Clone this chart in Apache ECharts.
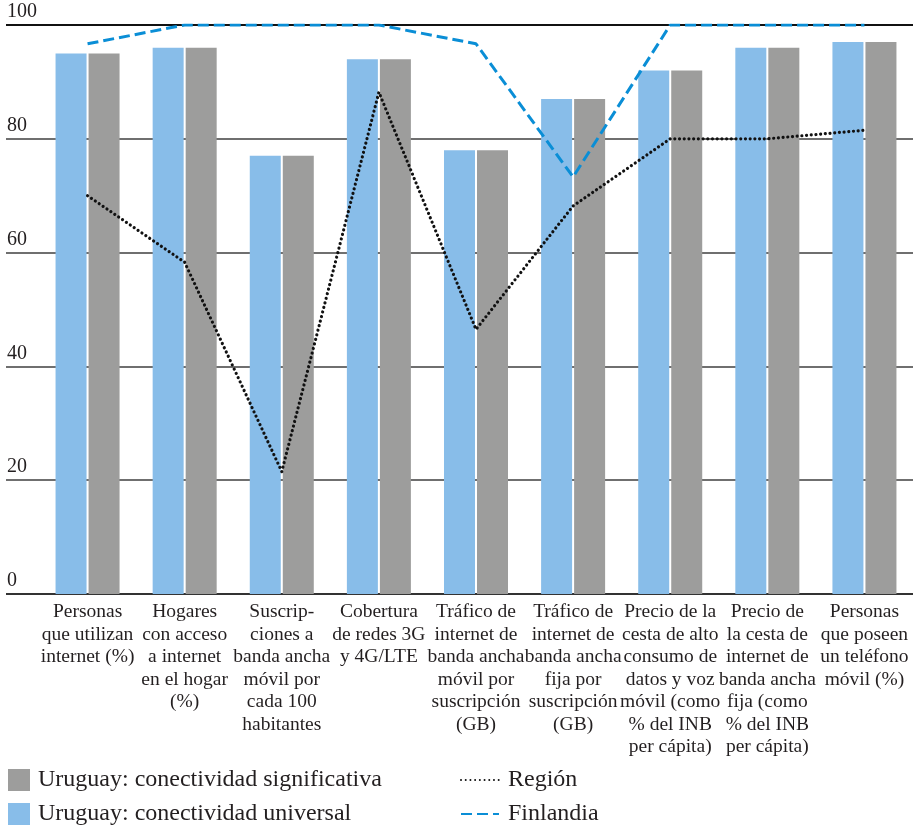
<!DOCTYPE html>
<html>
<head>
<meta charset="utf-8">
<script src="https://cdn.jsdelivr.net/npm/echarts@6/dist/echarts.min.js"></script>
<style>
  html, body { margin: 0; padding: 0; background: #ffffff; }
  #chart { width: 913px; height: 827px; }
</style>
</head>
<body>
<div id="chart"></div>
<script>
// Indicator labels (one per group of bars)
const categories = [
  'Personas\nque utilizan\ninternet (%)',
  'Hogares\ncon acceso\na internet\nen el hogar\n(%)',
  'Suscrip-\nciones a\nbanda ancha\nmóvil por\ncada 100\nhabitantes',
  'Cobertura\nde redes 3G\ny 4G/LTE',
  'Tráfico de\ninternet de\nbanda ancha\nmóvil por\nsuscripción\n(GB)',
  'Tráfico de\ninternet de\nbanda ancha\nfija por\nsuscripción\n(GB)',
  'Precio de la\ncesta de alto\nconsumo de\ndatos y voz\nmóvil (como\n% del INB\nper cápita)',
  'Precio de\nla cesta de\ninternet de\nbanda ancha\nfija (como\n% del INB\nper cápita)',
  'Personas\nque poseen\nun teléfono\nmóvil (%)'
];

// Uruguay scores
const universalValues     = [95, 96, 77, 94, 78, 87, 92, 96, 97];
const significativaValues = [95, 96, 77, 94, 78, 87, 92, 96, 97];

// Benchmarks
const regionValues    = [70, 58.3, 21.5, 88.2, 46.5, 68.2, 80, 80, 81.5];
const finlandiaValues = [96.7, 100, 100, 100, 96.7, 73.3, 100, 100, 100];

// Y axis ticks
const yTicks = [0, 20, 40, 60, 80, 100];

const FONT = "'Liberation Serif', 'DejaVu Serif', serif";
const TEXT = '#231f20';
const BLUE = '#88bde9';
const GRAY = '#9d9d9c';
const LINE_BLUE = '#0a8ed6';

const chart = echarts.init(document.getElementById('chart'), null, { renderer: 'canvas' });

// one legend block per entry so each row sits exactly where it belongs
function legendBlock(name, left, top, itemWidth, isLine) {
  const block = {
    orient: 'vertical',
    left: left,
    top: top,
    padding: 0,
    itemWidth: itemWidth,
    itemHeight: 22,
    textStyle: { fontFamily: FONT, fontSize: 24, color: TEXT, padding: [0, 0, 0, isLine ? 4 : 3] },
    data: [name]
  };
  if (isLine) {
    // keep only the stroke of the line sample
    block.itemStyle = { opacity: 0 };
  } else {
    block.icon = 'rect';
  }
  return block;
}

const option = {
  animation: false,
  backgroundColor: '#ffffff',
  textStyle: { fontFamily: FONT, color: TEXT },
  grid: [
    // full-width grid carrying the horizontal rules and their labels
    { left: 6, right: 0, top: 25, bottom: 233, containLabel: false },
    // plotting grid for bars and lines
    { left: 39, width: 879, top: 25, bottom: 233, containLabel: false }
  ],
  xAxis: [
    { gridIndex: 0, type: 'value', show: false, min: 0, max: 1 },
    {
      gridIndex: 1,
      type: 'category',
      data: categories,
      axisLine: { show: false },
      axisTick: { show: false },
      axisLabel: {
        interval: 0,
        margin: 7,
        fontFamily: FONT,
        fontSize: 19.5,
        lineHeight: 22.5,
        color: TEXT,
        align: 'center'
      }
    }
  ],
  yAxis: [
    {
      gridIndex: 0,
      type: 'value',
      min: yTicks[0],
      max: yTicks[yTicks.length - 1],
      interval: 20,
      axisLine: { show: false },
      axisTick: { show: false },
      splitLine: {
        show: true,
        lineStyle: {
          color: ['#333333', '#6f6f6f', '#6f6f6f', '#6f6f6f', '#6f6f6f', '#111111'],
          width: 2
        }
      },
      axisLabel: {
        inside: true,
        margin: 1,
        verticalAlign: 'bottom',
        padding: [0, 0, 3, 0],
        fontFamily: FONT,
        fontSize: 20,
        lineHeight: 20,
        color: TEXT,
        formatter: function (v) { return yTicks.indexOf(v) >= 0 ? String(v) : ''; }
      }
    },
    { gridIndex: 1, type: 'value', min: 0, max: 100, show: false, splitLine: { show: false } }
  ],
  legend: [
    legendBlock('Uruguay: conectividad significativa', 8, 768, 22, false),
    legendBlock('Uruguay: conectividad universal', 8, 802, 22, false),
    legendBlock('Región', 460, 768, 38, true),
    legendBlock('Finlandia', 460, 802, 38, true)
  ],
  series: [
    {
      name: 'Uruguay: conectividad universal',
      type: 'bar',
      xAxisIndex: 1,
      yAxisIndex: 1,
      data: universalValues,
      barWidth: 31,
      barGap: '6.5%',
      itemStyle: { color: BLUE }
    },
    {
      name: 'Uruguay: conectividad significativa',
      type: 'bar',
      xAxisIndex: 1,
      yAxisIndex: 1,
      data: significativaValues,
      barWidth: 31,
      barGap: '6.5%',
      itemStyle: { color: GRAY }
    },
    {
      name: 'Región',
      type: 'line',
      xAxisIndex: 1,
      yAxisIndex: 1,
      data: regionValues,
      symbol: 'none',
      z: 4,
      itemStyle: { color: '#111111' },
      lineStyle: { color: '#111111', width: 3.2, type: [0.01, 4.7], cap: 'round' }
    },
    {
      name: 'Finlandia',
      type: 'line',
      xAxisIndex: 1,
      yAxisIndex: 1,
      data: finlandiaValues,
      symbol: 'none',
      z: 4,
      itemStyle: { color: LINE_BLUE },
      lineStyle: { color: LINE_BLUE, width: 3, type: [11, 5] }
    }
  ]
};

chart.setOption(option);
</script>
</body>
</html>
